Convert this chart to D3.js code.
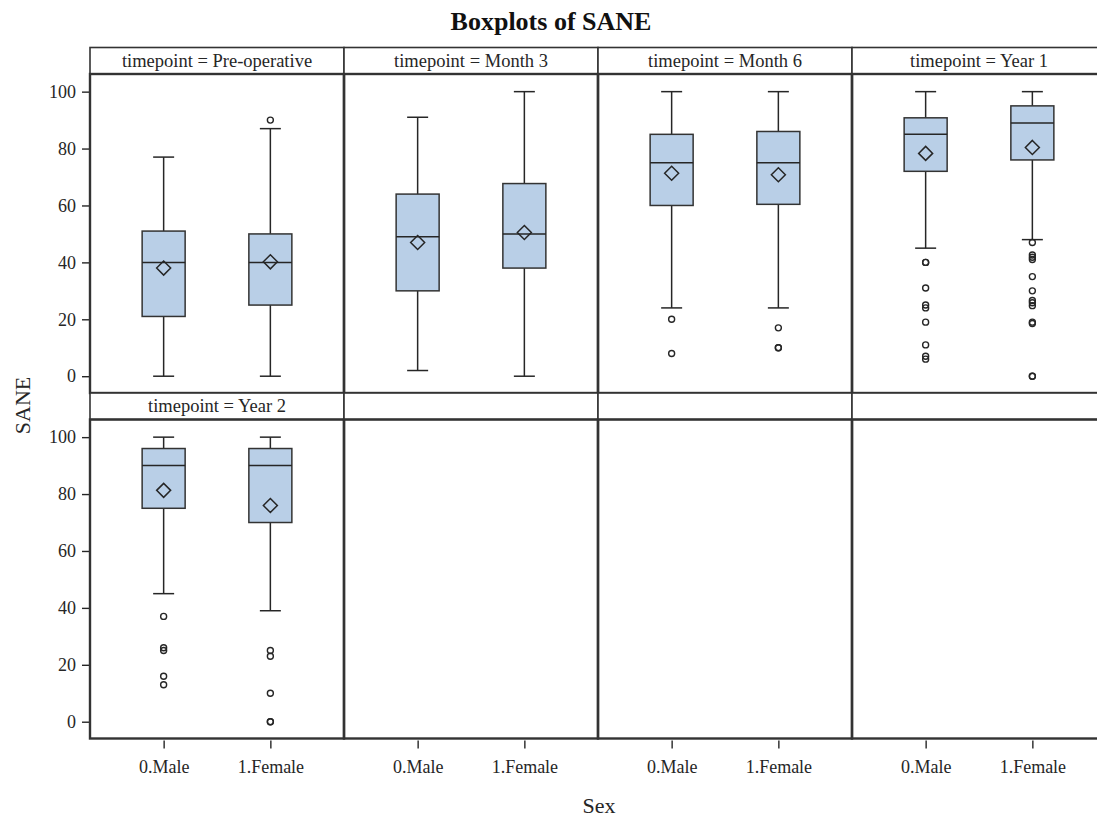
<!DOCTYPE html>
<html>
<head>
<meta charset="utf-8">
<script src="https://cdn.jsdelivr.net/npm/d3@7"></script>
<style>
  html, body { margin: 0; padding: 0; background: #fff; }
  svg { display: block; font-family: "Liberation Serif", "Times New Roman", serif; }
</style>
</head>
<body>
<svg id="chart" width="1097" height="819"></svg>
<script>
// Panels (one per timepoint) and the groups plotted inside each panel
const timepoints = ["Pre-operative", "Month 3", "Month 6", "Year 1", "Year 2"];
const sexes = ["0.Male", "1.Female"];

// Box statistics per timepoint, as [male, female]
const whiskerLow  = [[0, 0],   [2, 0],    [24, 24],     [45, 48],     [45, 39]];
const q1          = [[21, 25], [30, 38],  [60, 60.4],   [72, 76],     [75, 70]];
const median      = [[40, 40], [49, 50],  [75, 75],     [85, 89],     [90, 90]];
const q3          = [[51, 50], [64, 67.7],[85, 86],     [90.8, 95],   [96, 96]];
const whiskerHigh = [[77, 87], [91, 100], [100, 100],   [100, 100],   [100, 100]];
const meanValue   = [[38, 40.2],[47, 50.5],[71.3, 70.8],[78.3, 80.4], [81.3, 76]];
const outliers = [
  [[], [90]],
  [[], []],
  [[20, 8], [17, 10, 10]],
  [[40, 40, 31, 25, 24, 19, 11, 7, 6],
   [47, 42.6, 41.8, 41, 35, 30, 26.6, 25.8, 24.8, 19, 18.5, 0, 0]],
  [[37, 26, 25, 16, 13], [25, 23, 10, 0, 0]]
];
const yTicks = [0, 20, 40, 60, 80, 100];

const svg = d3.select("#chart");
const ink = "#262626";
const frame = "#333333";
const boxFill = "#b9cfe7";
const serif = "Liberation Serif, Times New Roman, serif";

// Grid geometry
const nCols = 4, nRows = 2;
const gridLeft = 90, colStep = 254;
const rowTop = [47.5, 393];
const headerH = 26.5, plotH = 319;

const yDomain = [-5.9, 106.2];

// Title and axis titles
svg.append("text")
  .attr("x", 551).attr("y", 30)
  .attr("text-anchor", "middle")
  .attr("font-size", 26).attr("font-weight", "bold")
  .attr("fill", "#111")
  .text("Boxplots of SANE");

svg.append("text")
  .attr("x", 599).attr("y", 813)
  .attr("text-anchor", "middle")
  .attr("font-size", 22).attr("fill", ink)
  .text("Sex");

svg.append("text")
  .attr("transform", "translate(30,405.5) rotate(-90)")
  .attr("text-anchor", "middle")
  .attr("font-size", 22).attr("fill", ink)
  .text("SANE");

for (let r = 0; r < nRows; r++) {
  for (let c = 0; c < nCols; c++) {
    const idx = r * nCols + c;
    const x0 = gridLeft + c * colStep, x1 = x0 + colStep;
    const hTop = rowTop[r], pTop = hTop + headerH, pBot = pTop + plotH;

    const x = d3.scalePoint().domain(sexes).range([x0, x1]).padding(0.69);
    const y = d3.scaleLinear().domain(yDomain).range([pBot, pTop]);

    const g = svg.append("g");

    // Header strip
    g.append("rect")
      .attr("x", x0).attr("y", hTop).attr("width", colStep).attr("height", headerH)
      .attr("fill", "#fff").attr("stroke", frame).attr("stroke-width", 1.6);
    if (idx < timepoints.length) {
      g.append("text")
        .attr("x", (x0 + x1) / 2).attr("y", hTop + 19)
        .attr("text-anchor", "middle")
        .attr("font-size", 18.5).attr("fill", ink)
        .text("timepoint = " + timepoints[idx]);
    }

    // Y axis on the first column
    if (c === 0) {
      const ya = g.append("g").attr("transform", `translate(${x0},0)`)
        .call(d3.axisLeft(y).tickValues(yTicks).tickSize(8).tickPadding(6));
      ya.select(".domain").remove();
      ya.selectAll("line").attr("stroke", ink).attr("stroke-width", 1.4);
      ya.selectAll("text").attr("font-size", 18).attr("fill", ink)
        .attr("font-family", serif);
    }

    // X axis on the bottom row
    if (r === nRows - 1) {
      const xa = g.append("g").attr("transform", `translate(0,${pBot})`)
        .call(d3.axisBottom(x).tickSize(8).tickPadding(14));
      xa.select(".domain").remove();
      xa.selectAll("line").attr("stroke", ink).attr("stroke-width", 1.4)
        .attr("transform", "translate(0,2)");
      xa.selectAll("text").attr("font-size", 18).attr("fill", ink)
        .attr("font-family", serif);
    }

    if (idx < timepoints.length) {
      const boxW = 43, capW = 21;
      sexes.forEach((s, k) => {
        const cx = x(s);
        const bg = g.append("g");
        // whiskers
        bg.append("line").attr("x1", cx).attr("x2", cx)
          .attr("y1", y(whiskerHigh[idx][k])).attr("y2", y(q3[idx][k]))
          .attr("stroke", ink).attr("stroke-width", 1.5);
        bg.append("line").attr("x1", cx).attr("x2", cx)
          .attr("y1", y(q1[idx][k])).attr("y2", y(whiskerLow[idx][k]))
          .attr("stroke", ink).attr("stroke-width", 1.5);
        [whiskerHigh[idx][k], whiskerLow[idx][k]].forEach(v => {
          bg.append("line").attr("x1", cx - capW / 2).attr("x2", cx + capW / 2)
            .attr("y1", y(v)).attr("y2", y(v))
            .attr("stroke", ink).attr("stroke-width", 1.5);
        });
        // box
        bg.append("rect")
          .attr("x", cx - boxW / 2).attr("width", boxW)
          .attr("y", y(q3[idx][k])).attr("height", y(q1[idx][k]) - y(q3[idx][k]))
          .attr("fill", boxFill).attr("stroke", frame).attr("stroke-width", 1.5);
        // median
        bg.append("line").attr("x1", cx - boxW / 2).attr("x2", cx + boxW / 2)
          .attr("y1", y(median[idx][k])).attr("y2", y(median[idx][k]))
          .attr("stroke", ink).attr("stroke-width", 1.5);
        // mean diamond
        const my = y(meanValue[idx][k]), d = 7;
        bg.append("path")
          .attr("d", `M${cx},${my - d}L${cx + d},${my}L${cx},${my + d}L${cx - d},${my}Z`)
          .attr("fill", "none").attr("stroke", ink).attr("stroke-width", 1.5);
        // outliers
        bg.selectAll("circle.out").data(outliers[idx][k]).join("circle")
          .attr("class", "out")
          .attr("cx", cx).attr("cy", v => y(v)).attr("r", 3)
          .attr("fill", "none").attr("stroke", ink).attr("stroke-width", 1.4);
      });
    }

    // Plot frame
    g.append("rect")
      .attr("x", x0).attr("y", pTop).attr("width", colStep).attr("height", plotH)
      .attr("fill", "none").attr("stroke", frame).attr("stroke-width", 2.4);
  }
}
</script>
</body>
</html>
